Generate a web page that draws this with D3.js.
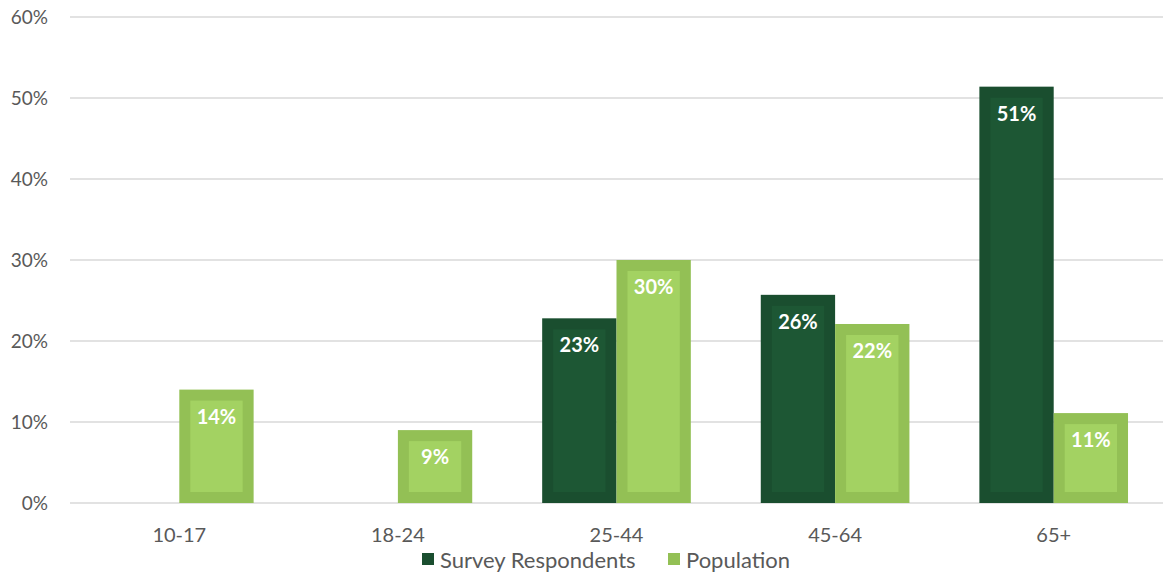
<!DOCTYPE html>
<html><head><meta charset="utf-8">
<script src="https://cdn.jsdelivr.net/npm/d3@7/dist/d3.min.js"></script>
<style>body{margin:0;background:#fff;} text{font-family:Lato,"Open Sans",sans-serif;}</style>
</head><body><svg id="c" width="1167" height="574"></svg>
<script>
const categories = ["10-17","18-24","25-44","45-64","65+"];
const respondents = [null, null, 22.8, 25.7, 51.4];
const population = [14.0, 9.0, 30.0, 22.1, 11.1];
const seriesNames = ["Survey Respondents","Population"];
const yTicks = [0,10,20,30,40,50,60];

const svg = d3.select("#c");
const m = {l:70, r:1163, t:17, b:503};
const x = d3.scaleBand().domain(categories).range([m.l, m.r]).paddingInner(0.32).paddingOuter(0.16);
const xs = d3.scaleBand().domain([0,1]).range([0, x.bandwidth()]);
const y = d3.scaleLinear().domain([0,60]).range([m.b, m.t]);

const gridG = svg.append("g");
yTicks.forEach(t=>{
  gridG.append("line").attr("x1",m.l).attr("x2",m.r).attr("y1",y(t)).attr("y2",y(t))
    .attr("stroke","#d9d9d9").attr("stroke-width",1.3);
  gridG.append("text").attr("x",48).attr("y",y(t)).attr("dy","0.35em").attr("text-anchor","end")
    .attr("font-size",19).attr("fill","#595959").text(t+"%");
});

const cols = [{outer:"#1a4e2f", inner:"#1d5734"},{outer:"#93c055", inner:"#a3d262"}];
const series = [respondents, population];
const bw = 11;
series.forEach((vals,si)=>{
  categories.forEach((c,i)=>{
    const v = vals[i];
    if (v==null) return;
    const x0 = x(c)+xs(si), w = xs.bandwidth();
    const yt = y(v), h = y(0)-y(v);
    svg.append("rect").attr("x",x0).attr("y",yt).attr("width",w).attr("height",h).attr("fill",cols[si].outer);
    svg.append("rect").attr("x",x0+bw).attr("y",yt+bw).attr("width",Math.max(0,w-2*bw)).attr("height",Math.max(0,h-2*bw)).attr("fill",cols[si].inner);
    svg.append("text").attr("x",x0+w/2).attr("y",yt+27).attr("dy","0.35em").attr("text-anchor","middle")
      .attr("font-size",20).attr("font-weight","bold").attr("fill","#ffffff").text(Math.round(v)+"%");
  });
});

categories.forEach(c=>{
  svg.append("text").attr("x",x(c)+x.bandwidth()/2).attr("y",535).attr("dy","0.35em").attr("text-anchor","middle")
    .attr("font-size",20).attr("fill","#595959").text(c);
});

const leg = [{x:422, name:seriesNames[0], c:"#1a4e2f"},{x:668, name:seriesNames[1], c:"#93c055"}];
leg.forEach(l=>{
  svg.append("rect").attr("x",l.x).attr("y",553).attr("width",12).attr("height",12).attr("fill",l.c);
  svg.append("text").attr("x",l.x+18).attr("y",560).attr("dy","0.35em").attr("font-size",22).attr("fill","#595959").text(l.name);
});
</script></body></html>
